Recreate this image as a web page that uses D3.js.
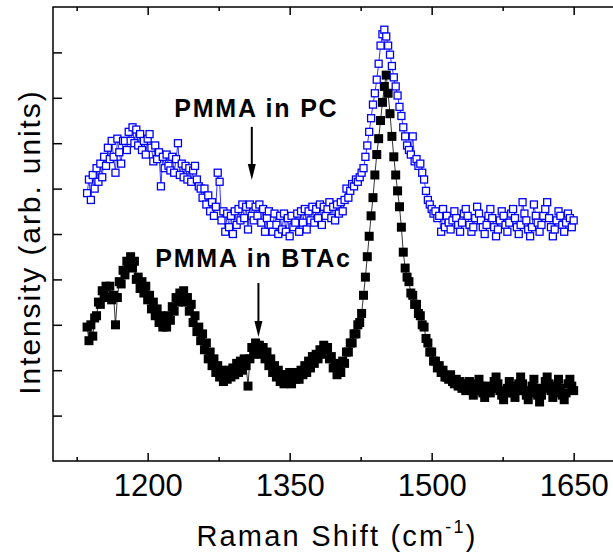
<!DOCTYPE html>
<html>
<head>
<meta charset="utf-8">
<script src="https://cdn.jsdelivr.net/npm/d3@7"></script>
<style>
  body { margin: 0; background: #fff; }
  svg { font-family: Arial, "Liberation Sans", sans-serif; }
  .axis path, .axis line { stroke: #000; stroke-width: 1.5; }
</style>
</head>
<body>
<div id="chart-area"></div>
<script>

// SVG Size
var width = 613,
    height = 556;

// Raman shift grid (cm-1), one sample every 2 cm-1
var ramanShift = d3.range(1136, 1651, 2);

// PMMA in PC (blue open squares), arb. units
var pcIntensity = [
  5.90, 6.20, 5.75, 6.30, 6.00, 6.45, 6.15, 6.55, 6.25, 6.70,
  6.50, 6.90, 6.65, 7.05, 6.70, 6.35, 7.10, 6.80, 6.55, 7.05,
  7.05, 6.85, 7.25, 7.05, 7.35, 7.00, 7.30, 6.95, 7.20, 6.85,
  7.05, 6.75, 7.10, 7.20, 6.90, 6.60, 6.95, 6.65, 6.80, 6.05,
  6.70, 6.45, 6.75, 6.50, 6.40, 6.70, 6.35, 6.65, 7.00, 6.30,
  6.55, 6.25, 6.50, 6.20, 6.45, 6.15, 6.40, 6.50, 6.20, 6.05,
  6.00, 5.80, 6.00, 5.65, 5.85, 5.50, 5.70, 5.40, 5.60, 6.35,
  6.15, 5.30, 5.50, 5.05, 5.45, 5.15, 5.40, 5.00, 5.50, 5.20,
  5.55, 5.30, 5.65, 5.35, 5.60, 5.10, 5.65, 5.40, 5.30, 5.60,
  5.40, 5.65, 5.25, 5.55, 5.05, 5.35, 5.50, 5.20, 5.05, 5.45,
  5.20, 5.00, 5.40, 5.10, 5.45, 5.05, 5.35, 4.95, 5.40, 5.15,
  5.25, 5.45, 5.05, 5.50, 5.25, 5.55, 5.10, 5.50, 5.30, 5.60,
  5.25, 5.55, 5.35, 5.65, 5.20, 5.60, 5.40, 5.55, 5.70, 5.35,
  5.60, 5.30, 5.65, 5.45, 5.70, 5.50, 5.75, 6.00, 5.80, 5.95,
  6.10, 6.05, 6.20, 6.15, 6.25, 6.35, 6.45, 6.70, 6.95, 7.25,
  7.55, 7.85, 8.10, 8.40, 8.75, 9.15, 9.40, 9.50, 9.35, 9.15,
  8.95, 8.70, 8.45, 8.25, 8.05, 7.80, 7.60, 7.35, 7.15, 6.95,
  6.85, 6.75, 7.15, 6.60, 6.65, 6.50, 6.55, 6.35, 6.20, 5.95,
  5.75, 5.65, 5.55, 5.45, 5.50, 5.35, 5.40, 5.05, 5.55, 5.15,
  5.40, 5.25, 5.10, 5.30, 5.50, 5.35, 5.20, 5.05, 5.25, 5.45,
  5.55, 5.40, 5.20, 5.05, 5.15, 5.35, 5.60, 5.45, 5.30, 5.15,
  5.00, 5.20, 5.40, 5.55, 5.35, 5.15, 4.95, 5.10, 5.30, 5.50,
  5.40, 5.20, 5.05, 5.25, 5.45, 5.55, 5.35, 5.15, 5.00, 5.20,
  5.70, 5.45, 5.30, 5.10, 4.95, 5.15, 5.65, 5.40, 5.25, 5.05,
  5.20, 5.40, 5.55, 5.70, 5.35, 5.15, 4.95, 5.10, 5.30, 5.50,
  5.40, 5.20, 5.05, 5.25, 5.45, 5.35, 5.15, 5.30
];

// PMMA in BTAc (black filled squares), arb. units
var btacIntensity = [
  2.95, 2.65, 3.00, 2.75, 3.15, 3.20, 3.50, 3.45, 3.75, 3.65,
  3.85, 3.60, 3.85, 3.55, 3.65, 3.00, 3.60, 3.95, 3.90, 4.20,
  4.10, 4.40, 4.30, 4.50, 4.25, 4.40, 4.00, 4.05, 3.80, 3.95,
  3.70, 3.85, 3.55, 3.65, 3.35, 3.50, 3.20, 3.35, 3.05, 3.20,
  2.95, 3.10, 2.95, 3.20, 3.10, 3.40, 3.30, 3.60, 3.50, 3.70,
  3.55, 3.75, 3.50, 3.60, 3.30, 3.45, 3.05, 3.20, 2.85, 2.95,
  2.65, 2.80, 2.45, 2.60, 2.25, 2.40, 2.10, 2.25, 1.95, 2.10,
  1.85, 2.00, 1.75, 1.90, 1.80, 2.00, 1.85, 2.05, 1.90, 2.15,
  1.95, 2.20, 2.00, 2.25, 2.10, 1.65, 2.25, 2.50, 2.35, 2.60,
  2.40, 2.55, 2.35, 2.50, 2.25, 2.40, 2.10, 2.25, 1.95, 2.10,
  1.85, 2.00, 1.75, 1.90, 1.70, 1.90, 1.75, 1.95, 1.70, 1.90,
  1.80, 1.95, 1.80, 2.00, 1.90, 2.10, 1.95, 2.20, 2.05, 2.30,
  2.15, 2.35, 2.25, 2.45, 2.35, 2.55, 2.45, 2.50, 2.25, 2.30,
  2.05, 2.15, 1.90, 2.10, 1.95, 2.20, 2.15, 2.40, 2.40, 2.60,
  2.60, 2.80, 2.80, 3.00, 3.05, 3.25, 3.65, 4.05, 4.50, 4.95,
  5.40, 5.80, 6.30, 6.75, 7.10, 7.50, 7.90, 8.25, 8.50, 8.10,
  7.65, 7.15, 6.70, 6.30, 5.95, 5.60, 5.15, 4.60, 4.25, 4.05,
  3.95, 3.70, 3.65, 3.45, 3.45, 3.25, 3.20, 3.00, 2.95, 2.70,
  2.60, 2.40, 2.40, 2.20, 2.20, 2.05, 2.10, 1.95, 2.00, 1.85,
  1.85, 1.80, 1.90, 1.75, 1.70, 1.80, 1.65, 1.75, 1.60, 1.70,
  1.55, 1.65, 1.75, 1.60, 1.45, 1.55, 1.70, 1.80, 1.65, 1.50,
  1.40, 1.55, 1.65, 1.50, 1.60, 1.75, 1.85, 1.70, 1.55, 1.45,
  1.35, 1.50, 1.60, 1.75, 1.65, 1.50, 1.40, 1.55, 1.70, 1.85,
  1.70, 1.55, 1.45, 1.35, 1.50, 1.65, 1.80, 1.60, 1.45, 1.30,
  1.45, 1.60, 1.75, 1.85, 1.70, 1.55, 1.40, 1.50, 1.65, 1.80,
  1.60, 1.45, 1.35, 1.50, 1.70, 1.80, 1.65, 1.55
];

// axis ticks
var xMajorTicks = [1200, 1350, 1500, 1650];
var xMinorTicks = [1125, 1275, 1425, 1575];
var yTicks = [1, 2, 3, 4, 5, 6, 7, 8, 9];

// annotations (data units): label anchor, arrow x and its y from/to
var labels = ["PMMA in PC", "PMMA in BTAc"];
var labelX = [1228, 1208];
var labelY = [7.58, 4.27];
var arrowX = [1310, 1317];
var arrowY1 = [7.36, 3.92];
var arrowY2 = [6.19, 2.73];


var svg = d3.select('#chart-area')
    .append('svg')
    .attr('width', width)
    .attr('height', height);

var plotLeft = 53, plotTop = 7, plotBottom = 461;

var xScale = d3.scaleLinear()
    .domain([1100, 1700])
    .range([plotLeft, 621]);

var yScale = d3.scaleLinear()
    .domain([0, 10])
    .range([plotBottom, plotTop]);

// frame
svg.append("rect")
    .attr("x", plotLeft)
    .attr("y", plotTop)
    .attr("width", xScale(1700) - plotLeft)
    .attr("height", plotBottom - plotTop)
    .attr("fill", "none")
    .attr("stroke", "#000")
    .attr("stroke-width", 1.5);

// bottom axis (ticks point inward)
var xAxis = d3.axisBottom(xScale)
    .tickValues(xMajorTicks)
    .tickSizeInner(-8)
    .tickSizeOuter(0)
    .tickPadding(13)
    .tickFormat(d3.format("d"));

var gx = svg.append("g")
    .attr("class", "axis x-axis")
    .attr("transform", "translate(0," + plotBottom + ")")
    .call(xAxis);
gx.select(".domain").remove();
gx.selectAll("text")
    .attr("font-size", 31)
    .attr("font-family", "Arial, 'Liberation Sans', sans-serif")
    .attr("fill", "#000");

svg.append("g")
    .attr("class", "axis")
    .attr("transform", "translate(0," + plotBottom + ")")
    .call(d3.axisBottom(xScale).tickValues(xMinorTicks).tickSizeInner(-4).tickSizeOuter(0).tickFormat(""))
    .select(".domain").remove();

// top axis, no labels
var gTop = svg.append("g")
    .attr("class", "axis")
    .attr("transform", "translate(0," + plotTop + ")")
    .call(d3.axisTop(xScale).tickValues(xMajorTicks).tickSizeInner(-8).tickSizeOuter(0).tickFormat(""));
gTop.select(".domain").remove();
svg.append("g")
    .attr("class", "axis")
    .attr("transform", "translate(0," + plotTop + ")")
    .call(d3.axisTop(xScale).tickValues(xMinorTicks).tickSizeInner(-4).tickSizeOuter(0).tickFormat(""))
    .select(".domain").remove();

// left axis, no labels
svg.append("g")
    .attr("class", "axis y-axis")
    .attr("transform", "translate(" + plotLeft + ",0)")
    .call(d3.axisLeft(yScale).tickValues(yTicks).tickSizeInner(-9).tickSizeOuter(0).tickFormat(""))
    .select(".domain").remove();


// the two spectra: thin connecting line + squares
var btac = ramanShift.map(function (x, i) { return { x: x, y: btacIntensity[i] }; });
var pc = ramanShift.map(function (x, i) { return { x: x, y: pcIntensity[i] }; });

var line = d3.line()
    .x(function (d) { return xScale(d.x); })
    .y(function (d) { return yScale(d.y); });

svg.append("path")
    .datum(btac)
    .attr("d", line)
    .attr("fill", "none")
    .attr("stroke", "#000")
    .attr("stroke-width", 0.8);

var bs = 9;
svg.selectAll("rect.btac")
    .data(btac)
    .enter()
    .append("rect")
    .attr("class", "btac")
    .attr("x", function (d) { return xScale(d.x) - bs / 2; })
    .attr("y", function (d) { return yScale(d.y) - bs / 2; })
    .attr("width", bs)
    .attr("height", bs)
    .attr("fill", "#000");

svg.append("path")
    .datum(pc)
    .attr("d", line)
    .attr("fill", "none")
    .attr("stroke", "#0000ff")
    .attr("stroke-width", 0.8);

var ps = 7;
svg.selectAll("rect.pc")
    .data(pc)
    .enter()
    .append("rect")
    .attr("class", "pc")
    .attr("x", function (d) { return xScale(d.x) - ps / 2; })
    .attr("y", function (d) { return yScale(d.y) - ps / 2; })
    .attr("width", ps)
    .attr("height", ps)
    .attr("fill", "#fff")
    .attr("stroke", "#0000ff")
    .attr("stroke-width", 1.3);


// annotations
labels.forEach(function (t, i) {
    svg.append("text")
        .attr("x", xScale(labelX[i]))
        .attr("y", yScale(labelY[i]))
        .attr("font-size", 25)
        .attr("font-weight", "bold")
        .attr("letter-spacing", 1.8)
        .attr("fill", "#000")
        .text(t);

    var ax = xScale(arrowX[i]),
        ya = yScale(arrowY1[i]),
        yb = yScale(arrowY2[i]);
    svg.append("line")
        .attr("x1", ax).attr("x2", ax)
        .attr("y1", ya).attr("y2", yb - 10)
        .attr("stroke", "#000")
        .attr("stroke-width", 2);
    svg.append("path")
        .attr("d", "M" + (ax - 4) + "," + (yb - 16) + "L" + (ax + 4) + "," + (yb - 16) + "L" + ax + "," + yb + "Z")
        .attr("fill", "#000");
});


// axis titles
var xTitle = svg.append("text")
    .attr("text-anchor", "middle")
    .attr("x", (plotLeft + xScale(1700)) / 2)
    .attr("y", 546)
    .attr("font-size", 29)
    .attr("letter-spacing", 2.2)
    .attr("fill", "#000");
xTitle.append("tspan").text("Raman Shift (cm");
xTitle.append("tspan").attr("font-size", 18).attr("dy", -13).text("-1");
xTitle.append("tspan").attr("dy", 13).text(")");

svg.append("text")
    .attr("text-anchor", "middle")
    .attr("transform", "translate(40," + 242 + ")rotate(-90)")
    .attr("font-size", 30)
    .attr("letter-spacing", 1.9)
    .attr("fill", "#000")
    .text("Intensity (arb. units)");

</script>
</body>
</html>
